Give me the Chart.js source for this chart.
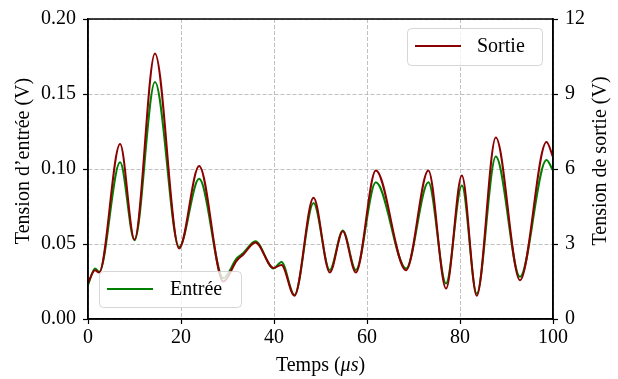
<!DOCTYPE html>
<html>
<head>
<meta charset="utf-8">
<script src="https://cdn.jsdelivr.net/npm/chart.js@4"></script>
<style>
html,body{margin:0;padding:0;background:#fff;}
#wrap{width:618px;height:379px;}
</style>
</head>
<body>
<div id="wrap"><canvas id="c" width="618" height="379"></canvas></div>
<script>
// Data (time in µs)
const temps  = [0, 1.5, 2.4, 6.9, 10.0, 14.4, 19.6, 23.9, 29.1, 32.0, 33.4, 36.0, 39.9, 41.6, 44.4, 48.5, 52.0, 54.8, 57.6, 61.9, 68.4, 73.2, 77.0, 80.4, 83.6, 87.7, 92.9, 98.6, 100];
const entree = [0.0226, 0.0337, 0.0314, 0.1045, 0.0525, 0.158, 0.048, 0.0935, 0.0272, 0.0405, 0.044, 0.0518, 0.0337, 0.038, 0.016, 0.0773, 0.0326, 0.059, 0.0326, 0.0912, 0.0337, 0.0912, 0.0237, 0.089, 0.017, 0.1083, 0.0281, 0.106, 0.099];
const sortie = [1.44, 1.95, 1.86, 7.0, 3.18, 10.62, 2.82, 6.12, 1.5, 2.34, 2.58, 3.06, 2.04, 2.16, 0.93, 4.85, 1.86, 3.51, 1.86, 5.94, 1.95, 5.94, 1.22, 5.74, 0.93, 7.26, 1.55, 7.08, 6.48];
const xTicks = [0, 20, 40, 60, 80, 100];
const yLeftTicks = [0, 0.05, 0.10, 0.15, 0.20];
const yRightTicks = [0, 3, 6, 9, 12];

const FONT = '"Liberation Serif", "Times New Roman", serif';
const FS = 20;

const pts = (xs, ys) => xs.map((x, i) => ({x: x, y: ys[i]}));

const decor = {
  id: 'decor',
  afterDatasetsDraw(chart) {
    const ctx = chart.ctx;
    const drawLegend = (ds, bx, by, bw, bh, lx1, lx2, ly, tx) => {
      ctx.save();
      ctx.beginPath();
      ctx.roundRect(bx, by, bw, bh, 4);
      ctx.fillStyle = 'rgba(255,255,255,0.8)';
      ctx.fill();
      ctx.strokeStyle = 'rgba(204,204,204,0.8)';
      ctx.lineWidth = 1;
      ctx.stroke();
      ctx.beginPath();
      ctx.moveTo(lx1, ly); ctx.lineTo(lx2, ly);
      ctx.strokeStyle = ds.borderColor;
      ctx.lineWidth = 2;
      ctx.stroke();
      ctx.fillStyle = '#000';
      ctx.font = FS + 'px ' + FONT;
      ctx.textBaseline = 'middle';
      ctx.textAlign = 'left';
      ctx.fillText(ds.label, tx, ly + 1);
      ctx.restore();
    };
    const dsE = chart.data.datasets[1];
    const dsS = chart.data.datasets[0];
    drawLegend(dsS, 407.5, 28.5, 135, 37, 415, 461, 46, 477);
    drawLegend(dsE, 99.5, 271.5, 142, 36, 107, 153, 289, 170);
  },
  afterDraw(chart) {
    const ctx = chart.ctx;
    const a = chart.chartArea;
    ctx.save();
    ctx.setLineDash([]);
    ctx.strokeStyle = '#000';
    ctx.lineWidth = 1.5;
    ctx.strokeRect(a.left, a.top, a.right - a.left, a.bottom - a.top);
    ctx.fillStyle = '#000';
    ctx.font = FS + 'px ' + FONT;
    ctx.textBaseline = 'middle';
    ctx.textAlign = 'center';
    const cy = (a.top + a.bottom) / 2 - 8;
    ctx.save();
    ctx.translate(24, cy);
    ctx.rotate(-Math.PI / 2);
    ctx.fillText(chart.options.scales.y.titleText, 0, 0);
    ctx.restore();
    ctx.save();
    ctx.translate(601, cy);
    ctx.rotate(-Math.PI / 2);
    ctx.fillText(chart.options.scales.y1.titleText, 0, 0);
    ctx.restore();
    const p1 = 'Temps (', p2 = '\u03bcs', p3 = ')';
    const fN = FS + 'px ' + FONT, fI = 'italic ' + FS + 'px ' + FONT;
    ctx.font = fN; const w1 = ctx.measureText(p1).width, w3 = ctx.measureText(p3).width;
    ctx.font = fI; const w2 = ctx.measureText(p2).width;
    let x0 = (a.left + a.right) / 2 - (w1 + w2 + w3) / 2;
    const ty = 366;
    ctx.textAlign = 'left';
    ctx.font = fN; ctx.fillText(p1, x0, ty); x0 += w1;
    ctx.font = fI; ctx.fillText(p2, x0, ty); x0 += w2;
    ctx.font = fN; ctx.fillText(p3, x0, ty);
    ctx.restore();
  }
};

const gridOpts = {color: '#b0b0b0', lineWidth: 0.8, tickColor: '#000', tickLength: 5, tickWidth: 1.2, borderDash: [4, 2], tickBorderDash: []};
const borderOpts = {display: true, color: '#000', width: 1.5, dash: [4, 2]};

new Chart(document.getElementById('c'), {
  type: 'line',
  data: {
    datasets: [
      {label: 'Sortie', data: pts(temps, sortie), yAxisID: 'y1', borderColor: '#8b0000', borderWidth: 2, pointRadius: 0, cubicInterpolationMode: 'monotone', order: 0, fill: false},
      {label: 'Entrée', data: pts(temps, entree), yAxisID: 'y', borderColor: '#008000', borderWidth: 2, pointRadius: 0, cubicInterpolationMode: 'monotone', order: 1, fill: false}
    ]
  },
  options: {
    responsive: false,
    animation: false,
    events: [],
    layout: {padding: {top: 18, left: 0, right: 0, bottom: 0}},
    plugins: {legend: {display: false}, tooltip: {enabled: false}},
    scales: {
      x: {
        type: 'linear', min: 0, max: 100,
        afterBuildTicks: s => { s.ticks = xTicks.map(v => ({value: v})); },
        afterFit: s => { s.height = 60; },
        ticks: {color: '#000', font: {family: FONT, size: FS}, padding: 2, maxRotation: 0, callback: v => String(v)},
        grid: gridOpts,
        border: borderOpts
      },
      y: {
        type: 'linear', position: 'left', min: 0, max: 0.2,
        titleText: 'Tension d\u2019entrée (V)',
        afterBuildTicks: s => { s.ticks = yLeftTicks.map(v => ({value: v})); },
        afterFit: s => { s.width = 88; },
        ticks: {color: '#000', font: {family: FONT, size: FS}, padding: 7, callback: v => Number(v).toFixed(2)},
        grid: gridOpts,
        border: borderOpts
      },
      y1: {
        type: 'linear', position: 'right', min: 0, max: 12,
        titleText: 'Tension de sortie (V)',
        afterBuildTicks: s => { s.ticks = yRightTicks.map(v => ({value: v})); },
        afterFit: s => { s.width = 65; },
        ticks: {color: '#000', font: {family: FONT, size: FS}, padding: 7, callback: v => String(v)},
        grid: {drawOnChartArea: false, tickColor: '#000', tickLength: 5, tickWidth: 1.2},
        border: {display: true, color: '#000', width: 1.5}
      }
    }
  },
  plugins: [decor]
});
</script>
</body>
</html>
